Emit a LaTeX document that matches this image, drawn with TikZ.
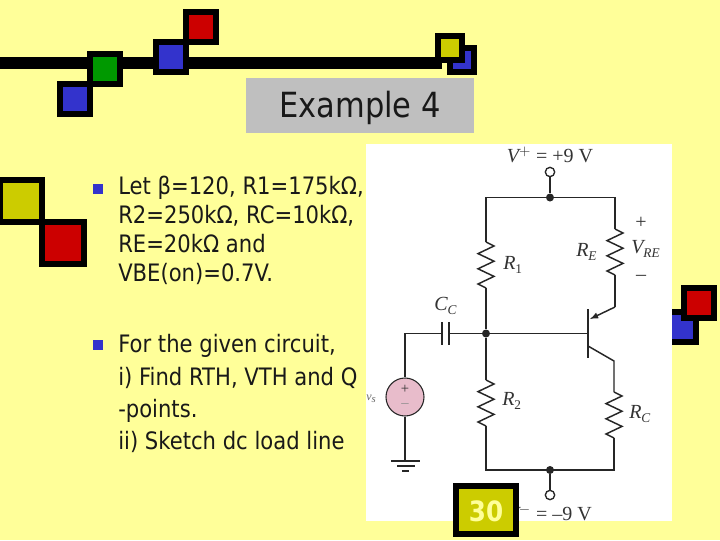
\documentclass[tikz,border=0pt]{standalone}
\usepackage{fontspec}
\setmainfont[FakeStretch=0.88]{DejaVu Sans}
\newfontfamily\cirfont{Liberation Serif}
\definecolor{paper}{HTML}{FFFF99}
\definecolor{sqblue}{HTML}{3333CC}
\definecolor{sqred}{HTML}{CC0000}
\definecolor{sqgreen}{HTML}{009900}
\definecolor{sqyellow}{HTML}{CCCC00}
\definecolor{srcpink}{HTML}{E8BCCB}
\newcommand\sub[2]{{\itshape #1}\raisebox{-.4ex}{\normalsize\itshape #2}}
\newcommand\zig[1]{\draw[wire](#1)--++(8,4)--++(-16,7.6)--++(16,7.6)--++(-16,7.6)--++(16,7.6)--++(-16,7.6)--++(8,4);}
\tikzset{
  sq/.style={draw=black,line width=4.5pt},
  wire/.style={line width=1.1pt,black!85},
  dot/.style={circle,fill=black!85,inner sep=0pt,minimum size=6pt},
  open/.style={circle,draw=black!85,fill=white,line width=1pt,inner sep=0pt,minimum size=7pt},
  cir/.style={font=\cirfont\fontsize{15}{17}\selectfont,text=black!80,inner sep=0pt},
  sgn/.style={font=\cirfont\fontsize{11}{12}\selectfont,inner sep=0pt},
  body/.style={anchor=base west,font=\fontsize{18}{20}\selectfont,text=black!90,inner sep=0pt}
}
\begin{document}
\begin{tikzpicture}[x=0.75pt,y=-0.75pt]
\useasboundingbox(0,0)rectangle(720,540);
\fill[paper](0,0)rectangle(720,540);
% top bar and squares
\fill(0,57)rectangle(442,69);
\foreach \x/\y/\c in {60/84/sqblue,90/54/sqgreen,156/42/sqblue,186/12/sqred,666/312/sqblue,684/288/sqred}
\draw[sq,fill=\c](\x,\y)rectangle+(30,30);
\foreach \x/\y/\c in {450/48/sqblue,438/36/sqyellow}
\draw[sq,fill=\c](\x,\y)rectangle+(24,24);
\foreach \x/\y/\c in {0/180/sqyellow,42/222/sqred}
\draw[sq,fill=\c](\x,\y)rectangle+(42,42);
\fill[black!25](246,78)rectangle(474,133);
\node[font=\fontsize{26}{28}\selectfont,text=black!90,inner sep=0pt](title)at(360,108){Example 4};
\fill[white](366,144)rectangle(672,521);
% circuit
\node[open](vp)at(550,172){};
\node[dot](jtop)at(550,197.5){};
\node[dot](jbase)at(486,333.5){};
\node[dot](jbot)at(550,470){};
\node[open](vm)at(550,495){};
\node[circle,draw=black!85,fill=srcpink,line width=.8pt,minimum size=28.5pt,inner sep=0pt](vs)at(405,397){};
\coordinate(tl)at(486,197.5);\coordinate(tr)at(615,197.5);
\coordinate(r1a)at(486,242);\coordinate(r1b)at(486,288.4);
\coordinate(r2a)at(486,380);\coordinate(r2b)at(486,426.4);
\coordinate(rea)at(615,229);\coordinate(reb)at(615,275.4);
\coordinate(rca)at(614,392);\coordinate(rcb)at(614,438.4);
\coordinate(em)at(615,307);\coordinate(emb)at(590,319);
\coordinate(col)at(614,361);\coordinate(colb)at(588,346);
\coordinate(bl)at(486,470);\coordinate(br)at(614,470);
\coordinate(base)at(588,333.5);\coordinate(cl)at(442,333.5);\coordinate(cr)at(449,333.5);
\coordinate(wl)at(405,333.5);\coordinate(gnd)at(405,461);
\draw[wire](vp)--(jtop);
\draw[wire](r1a)--(tl)--(tr)--(rea);
\zig{r1a}
\zig{rea}
\zig{r2a}
\zig{rca}
\draw[wire](r1b)--(jbase)--(r2a);
\draw[wire](r2b)--(bl)--(br)--(rcb);
\draw[wire](rca)--(col)--(colb);
\draw[wire](jbot)--(vm);
\draw[wire](reb)--(em);
\draw[wire,-latex](em)--(emb);
\draw[wire,line width=1.6pt](588,309)--(588,358);
\draw[wire](base)--(jbase)--(cr);
\draw[wire](cl)--(wl)--(vs);
\draw[wire](vs)--(gnd);
\draw[wire,line width=1.6pt](442,322)--(442,345)(449,322)--(449,345);
\draw[wire](391,461)--(420,461)(397,466)--(415,466)(402,471)--(409,471);
\node[sgn,text=black!80](plus)at(405,389){+};
\node[sgn,text=black!45](minus)at(405,406){–};
% labels
\node[cir](lvp)at(550,155){{\itshape V}$^{+}$ = +9 V};
\node[cir,anchor=east](lvm)at(592,513){{\itshape V}$^{-}$ = –9 V};
\node[cir,anchor=west](lr1)at(503,265){{\itshape R}\raisebox{-.4ex}{\normalsize 1}};
\node[cir,anchor=west](lr2)at(502,401){{\itshape R}\raisebox{-.4ex}{\normalsize 2}};
\node[cir,anchor=west](lre)at(576,252){\sub{R}{E}};
\node[cir,anchor=west](lrc)at(629,414){\sub{R}{C}};
\node[cir,anchor=west](lcc)at(434,306){\sub{C}{C}};
\node[cir,anchor=west](lvre)at(631,249){\sub{V}{RE}};
\node[cir](lp)at(641,223){+};
\node[cir](ln)at(641,278){–};
\node[cir,font=\cirfont\fontsize{9}{10}\selectfont,text=black!60](lvs)at(371,399){{\itshape v}\raisebox{-.4ex}{\footnotesize\itshape s}};
% text
\foreach \y in {184,340}\fill[sqblue](93,\y)rectangle+(10,10);
\foreach \n/\y/\t in {a/194/Let β=120{,} R1=175kΩ{,},b/223/R2=250kΩ{,} RC=10kΩ{,},c/252/RE=20kΩ and,d/281/VBE(on)=0.7V.,e/352/For the given circuit{,},f/385/i) Find RTH{,} VTH and Q,g/417/-points.,h/449/ii) Sketch dc load line}
\node[body](\n)at(118,\y){\t};
\draw[sq,fill=sqyellow](456,486)rectangle(516,534);
\node[font=\fontsize{21}{23}\selectfont\bfseries,text=paper,inner sep=0pt](page)at(486,511){30};
\end{tikzpicture}
\end{document}
